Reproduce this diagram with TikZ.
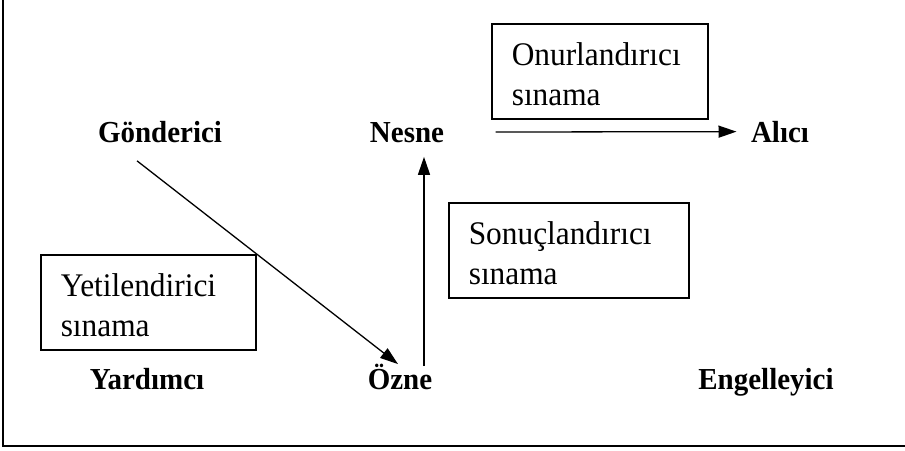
\documentclass[tikz,border=0pt]{standalone}
\usepackage{fontspec}
\setmainfont[FakeStretch=0.95]{Liberation Serif}
\usetikzlibrary{arrows.meta}

\begin{document}
\begin{tikzpicture}[x=1pt,y=-1pt,
	actant/.style={anchor=base,font=\fontsize{30.5}{36}\selectfont\bfseries},
	sinama/.style={draw,line width=1.6pt,anchor=north west,align=left,inner xsep=20pt,inner ysep=0pt,minimum height=95pt,text height=29pt,text depth=40pt,font=\rmfamily\fontsize{33}{40}\selectfont},
	ok/.style={line width=1.3pt,-{Triangle[length=18pt,width=12pt]}}]
\useasboundingbox (0,0) rectangle (905,450);
\draw[line width=2.2pt] (3,-10) -- (3,446) -- (915,446) ; % frame
\node[actant] (gonderici) at (160,142) {Gönderici}; % Gönderici
\node[actant] (nesne) at (407,142) {Nesne}; % Nesne
\node[actant] (alici) at (780,142) {Alıcı}; % Alıcı
\node[actant] (yardimci) at (147,389) {Yardımcı}; % Yardımcı
\node[actant] (ozne) at (400,389) {Özne}; % Özne
\node[actant] (engelleyici) at (766,389) {Engelleyici}; % Engelleyici
\node[sinama,text width=176pt] (onur) at (491,23) {Onurlandırıcı\\sınama}; % Onurlandırıcı
\node[sinama,text width=200pt] (sonuc) at (448,202) {Sonuçlandırıcı\\sınama}; % Sonuçlandırıcı
\node[sinama,text width=175pt] (yeti) at (40,254) {Yetilendirici\\sınama}; % Yetilendirici
\draw[ok,shorten <=48pt,shorten >=11pt] (nesne) -- (alici) ; % nesne -> alici
\coordinate (oznetop) at ([xshift=24pt,yshift=-6pt]ozne.north) ;
\draw[ok,shorten >=11pt] (oznetop) -- (oznetop |- nesne.south) ; % ozne -> nesne
\draw[ok] ([shift={(-23pt,-15pt)}]gonderici.south) -- ([shift={(-2pt,-4pt)}]ozne.north) ; % gonderici -> ozne
\end{tikzpicture}
\end{document}
